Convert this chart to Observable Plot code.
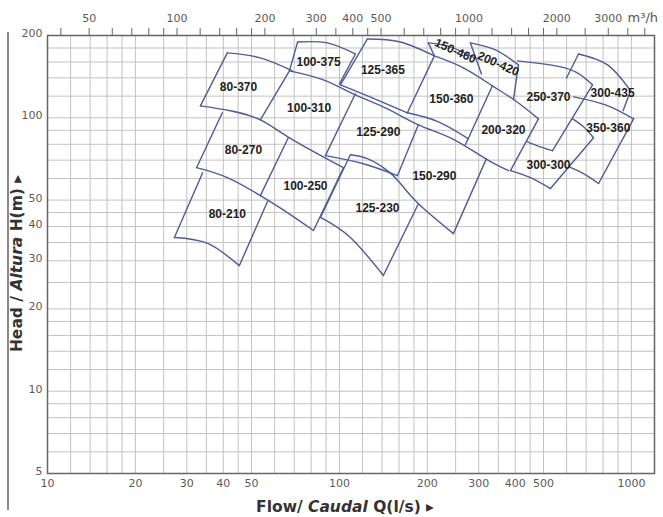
<!DOCTYPE html>
<html><head><meta charset="utf-8">
<script src="https://cdn.jsdelivr.net/npm/d3@7"></script>
<script src="https://cdn.jsdelivr.net/npm/@observablehq/plot@0.6"></script>
<style>
body{margin:0;background:#fff;}
#wrap{position:relative;width:663px;height:517px;overflow:hidden;}
#edge{position:absolute;left:7px;top:32px;width:1.5px;height:478px;background:#8a8a8a;}
</style></head><body>
<div id="wrap"><div id="edge"></div></div>
<script>
// Pump model labels and their positions (Q in l/s, H in m)
const models = ["80-370","100-375","125-365","150-460","200-420","250-370","300-435",
  "100-310","150-360","80-270","125-290","200-320","350-360","300-300",
  "100-250","150-290","80-210","125-230"];
const labelQ = [45.1, 84.8, 140.9, 249.6, 350, 520, 862, 78.7, 241.8, 46.9, 135.9, 364.6, 834, 520, 76.5, 211.5, 41.3, 135];
const labelH = [129, 159.7, 149.6, 175.6, 157.5, 119.3, 123.4, 108.8, 117.4, 76.4, 88.8, 90.4, 91.9, 67.3, 56, 61, 44.3, 46.6];
const labelAngle = [0,0,0,24,24,0,0,0,0,0,0,0,0,0,0,0,0,0];

// Boundary lines of the pump coverage areas (flow Q l/s, head H m)
const boundaryQ = [
  [33.4, 42.3, 53.6, 67.4, 103.2],          // 80-370 bottom / 80-270 top / 100-250 top
  [41.3, 53.6, 69.0],                       // 80-370 top
  [41.3, 33.4],                             // 80-370 left
  [67.4, 53.6],                             // 100-310 left
  [71.9, 67.4],                             // 100-375 left
  [71.9, 90.9, 113.4],                      // 100-375 top
  [113.4, 100.0],                           // 100-375 right
  [67.4, 88.1, 113.4, 146.0, 186.4, 243.7, 316.3, 379.3], // 100-310 / 125-290 / 150-290 top
  [100.8, 129.7, 170.9],                    // 125-365 bottom
  [113.4, 89.5],                            // 125-290 left
  [124.7, 100.8],                           // 125-365 left
  [124.7, 161.7, 211.5],                    // 125-365 top
  [211.5, 170.9],                           // 150-360 left
  [170.9, 218.3, 276.6],                    // 150-360 bottom
  [186.4, 158.0],                           // 125-290 right
  [89.5, 120.8, 158.0],                     // 125-290 bottom
  [109.0, 86.1],                            // 125-230 left
  [109.0, 124.7, 146.0, 161.7, 186.4, 245.7], // 125-230 top / 150-290 bottom
  [186.4, 141.4],                           // 125-230 right
  [86.1, 109.0, 141.4],                     // 125-230 bottom
  [32.4, 41.3, 53.6, 66.3, 81.5],           // 80-270 bottom / 100-250 bottom
  [39.7, 32.4],                             // 80-270 left
  [66.8, 53.6],                             // 100-250 left
  [34.0, 27.2],                             // 80-210 left
  [56.7, 45.4],                             // 80-210 right
  [27.2, 35.4, 45.4],                       // 80-210 bottom
  [103.2, 81.5],                            // 100-250 right
  [201.7, 239.9, 290.0],                    // 150-460 top
  [201.7, 211.5],                           // 150-460 left
  [281.0, 306.5],                           // 200-420 left
  [211.5, 265.8, 334.2, 400.8, 480.5],      // 150-360 top / 200-320 top
  [281.0, 342.3, 410.4],                    // 200-420 top
  [410.4, 394.5],                           // 200-420 right
  [407.1, 528.3, 643.6, 736.1],             // 250-370 top
  [736.1, 536.8],                           // 250-370 right
  [440.7, 488.2, 536.8],                    // 250-370 bottom
  [480.5, 385.3],                           // 200-320 right
  [334.2, 270.1],                           // 150-360 right
  [318.8, 245.7],                           // 150-290 right
  [628.6, 685.6, 742],                      // 300-300 top
  [742, 528.3],                             // 300-300 right
  [385.3, 451.2, 528.3],                    // 300-300 bottom
  [659.1, 828.7, 993.6],                    // 300-435 top
  [659.1, 599.5],                           // 300-435 left
  [993.6, 936.7],                           // 300-435 right
  [633.6, 815.6, 1017.6],                   // 350-360 top
  [1017.6, 772],                            // 350-360 right
  [609, 685.6, 772]                         // 350-360 bottom
];
const boundaryH = [
  [110.6, 106.1, 98.3, 84.5, 65.7],
  [172.7, 165.6, 148.4],
  [172.7, 110.6],
  [148.4, 98.3],
  [189.4, 148.4],
  [189.4, 187.9, 171.2],
  [171.2, 133.1],
  [148.4, 137.6, 121.3, 107.9, 94.3, 83.8, 70.9, 64.1],
  [132.0, 118.3, 104.3],
  [122.4, 72.7],
  [194.3, 132.0],
  [194.3, 189.4, 168.4],
  [168.4, 104.3],
  [104.3, 96.7, 83.8],
  [94.3, 61.4],
  [72.7, 67.9, 61.4],
  [73.3, 43.2],
  [73.3, 70.9, 64.1, 57.5, 48.5, 37.7],
  [48.5, 26.5],
  [43.2, 36.5, 26.5],
  [65.7, 60.4, 51.9, 45.0, 38.7],
  [104.3, 65.7],
  [84.5, 51.9],
  [63.0, 36.5],
  [49.4, 28.8],
  [36.5, 34.7, 28.8],
  [65.7, 38.7],
  [187.9, 181.7, 165.6],
  [187.9, 168.4],
  [187.9, 144.7],
  [168.4, 152.2, 130.9, 115.4, 99.1],
  [187.9, 177.1, 156.1],
  [156.1, 116.5],
  [161.5, 156.1, 147.2, 132.0],
  [132.0, 75.8],
  [81.7, 78.3, 75.8],
  [99.1, 64.1],
  [130.9, 79.7],
  [70.9, 37.7],
  [99.1, 92.7, 84.5],
  [84.5, 55.1],
  [64.1, 60.4, 55.1],
  [171.2, 156.1, 125.5],
  [171.2, 139.8],
  [125.5, 106.1],
  [119.3, 111.5, 99.1],
  [99.1, 57.5],
  [66.3, 62.5, 57.5]
];

// Axes and grid
const flowLabels = [10, 20, 30, 40, 50, 100, 200, 300, 400, 500, 1000];
const headLabels = [5, 10, 20, 30, 40, 50, 100, 200];
const flowGrid = [12,14,16,18,20,25,30,35,40,45,50,60,70,80,90,100,120,140,160,180,200,250,300,350,400,450,500,600,700,800,900,1000];
const headGrid = [6,7,8,9,10,12,14,16,18,20,25,30,35,40,45,50,60,70,80,90,100,120,140,160,180];
const m3hTicks = [40,50,60,70,80,90,100,120,140,160,180,200,250,300,350,400,450,500,600,700,800,900,1000,1200,1400,1600,1800,2000,2500,3000,3500,4000];
const m3hLabels = [50, 100, 200, 300, 400, 500, 1000, 2000, 3000];
const xTitle = "Flow/ Caudal Q(l/s) \u25B8";
const yTitle = "Head / Altura H(m) \u25B8";

const segments = boundaryQ.flatMap((qs, k) => qs.map((q, j) => ({k, q, h: boundaryH[k][j]})));
const labels = models.map((m, i) => ({m, q: labelQ[i], h: labelH[i], a: labelAngle[i]}));
const toLps = v => v / 3.6; // m³/h -> l/s

const chart = Plot.plot({
  width: 663, height: 517,
  marginLeft: 47, marginRight: 9, marginTop: 35, marginBottom: 44,
  style: {fontFamily: "'DejaVu Sans', sans-serif", fontSize: "11px", color: "#5a5a5a", background: "transparent"},
  x: {type: "log", domain: [10, 1200], label: null},
  y: {type: "log", domain: [5, 200], label: null},
  marks: [
    Plot.ruleX(flowGrid, {stroke: "#c2c2c2", strokeWidth: 1}),
    Plot.ruleY(headGrid, {stroke: "#c2c2c2", strokeWidth: 1}),
    Plot.frame({stroke: "#666", strokeWidth: 1.5}),
    Plot.axisX({anchor: "bottom", ticks: flowLabels, tickSize: 0, tickPadding: 6, tickFormat: d => String(d), label: null}),
    Plot.axisX({anchor: "top", ticks: m3hTicks.map(toLps), tickSize: 8, tickFormat: () => "", label: null, stroke: "#666"}),
    Plot.text(m3hLabels, {x: toLps, frameAnchor: "top", dy: -17, lineAnchor: "middle", text: d => String(d), fill: "#5a5a5a"}),
    Plot.axisY({ticks: headLabels, tickSize: 0, tickPadding: 5, dy: -2, tickFormat: d => String(d), label: null}),
    Plot.line(segments, {x: "q", y: "h", z: "k", curve: "natural", stroke: "#4e5c9c", strokeWidth: 1.4}),
    Plot.text(labels, {x: "q", y: "h", text: "m", rotate: "a", fontSize: 12, fontWeight: "bold",
      fontFamily: "'Liberation Sans', Arial, sans-serif", fill: "#222"}),
    Plot.text(["m\u00B3/h"], {frameAnchor: "top-right", textAnchor: "start", lineAnchor: "middle", dx: -27, dy: -18, fontSize: 13, fill: "#555"}),
    Plot.text([xTitle], {frameAnchor: "bottom", textAnchor: "middle", lineAnchor: "middle", dx: -6, dy: 34, fontSize: 15.5, fontWeight: "bold", fill: "#333"}),
    Plot.text([yTitle], {frameAnchor: "left", textAnchor: "middle", lineAnchor: "middle", rotate: -90, dx: -30, dy: 9, fontSize: 15.5, fontWeight: "bold", fill: "#333"})
  ]
});
document.getElementById("wrap").append(chart);

// italic parts of the axis titles
const svg = d3.select(chart);
svg.selectAll("text").filter(function() { return this.textContent === xTitle; }).each(function() {
  const t = d3.select(this); t.text(null);
  t.append("tspan").text("Flow/ ");
  t.append("tspan").attr("font-style", "italic").text("Caudal");
  t.append("tspan").text(" Q(l/s) \u25B8");
});
svg.selectAll("text").filter(function() { return this.textContent === yTitle; }).each(function() {
  const t = d3.select(this); t.text(null);
  t.append("tspan").text("Head / ");
  t.append("tspan").attr("font-style", "italic").text("Altura");
  t.append("tspan").text(" H(m) \u25B8");
});
</script>
</body></html>
